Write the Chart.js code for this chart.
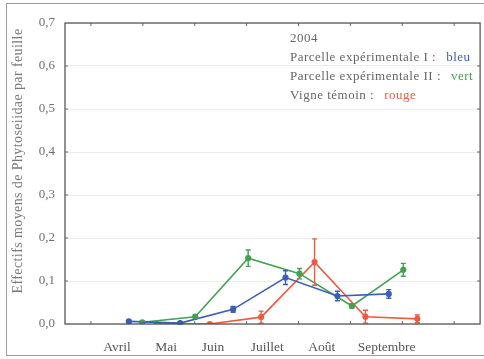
<!DOCTYPE html>
<html>
<head>
<meta charset="utf-8">
<script src="https://cdn.jsdelivr.net/npm/chart.js@4.4.1/dist/chart.umd.min.js"></script>
<style>
  body { margin: 0; background: #fff; }
  #wrap { position: relative; width: 484px; height: 359px; }
  #frame { position: absolute; left: 6px; top: 3px; width: 490px; height: 353px;
           border: 1px solid #9a9a9a; box-sizing: border-box; }
  canvas { position: absolute; left: 0; top: 0; }
</style>
</head>
<body>
<div id="wrap">
  <div id="frame"></div>
  <canvas id="chart" width="484" height="359"></canvas>
</div>
<script>
// months on the x axis (x = month number, 4 = 1st of April)
var months = ["Avril", "Mai", "Juin", "Juillet", "Août", "Septembre"]
var monthPos = [4.5, 5.45, 6.35, 7.4, 8.45, 9.7]
var monthTicks = [4, 5, 6, 7, 8, 9, 10, 11]

// Parcelle expérimentale I (bleu)
var blueX = [4.73, 5.72, 6.74, 7.75, 8.75, 9.74]
var blueY = [0.006, 0.002, 0.034, 0.108, 0.065, 0.070]
var blueErr = [0.003, 0.002, 0.007, 0.016, 0.011, 0.010]

// Parcelle expérimentale II (vert)
var greenX = [4.99, 6.01, 7.03, 8.02, 9.03, 10.02]
var greenY = [0.004, 0.017, 0.153, 0.117, 0.042, 0.126]
var greenErr = [0.002, 0.004, 0.019, 0.012, 0.005, 0.015]

// Vigne témoin (rouge)
var redX = [5.27, 6.29, 7.28, 8.31, 9.29, 10.29]
var redY = [0.0, 0.0, 0.016, 0.144, 0.017, 0.012]
var redErr = [0.0, 0.0, 0.014, 0.054, 0.015, 0.009]

var yTitle = 'Effectifs moyens de Phytoseiidae par feuille'
var blue = '#3a5fb5', green = '#44a153', red = '#ef5b41'
var serif = '"Liberation Serif", "DejaVu Serif", serif'

function pts(xs, ys) {
    return xs.map(function (x, i) { return { x: x, y: ys[i] } })
}

function ds(label, xs, ys, err, color) {
    return {
        label: label,
        data: pts(xs, ys),
        errors: err,
        borderColor: color,
        backgroundColor: color,
        borderWidth: 1.6,
        pointRadius: 2.3,
        pointHoverRadius: 2.3,
        tension: 0
    }
}

// error bars + plot frame + inside ticks + the text legend
var extras = {
    id: 'extras',
    afterDatasetsDraw: function (chart) {
        var ctx = chart.ctx, ys = chart.scales.y
        chart.data.datasets.forEach(function (d, di) {
            var meta = chart.getDatasetMeta(di)
            ctx.save()
            ctx.strokeStyle = d.borderColor
            ctx.lineWidth = 1.4
            meta.data.forEach(function (p, i) {
                var e = d.errors[i]
                if (!e) return
                var v = d.data[i].y
                var top = ys.getPixelForValue(v + e), bot = ys.getPixelForValue(Math.max(0, v - e))
                ctx.beginPath()
                ctx.moveTo(p.x, top); ctx.lineTo(p.x, bot)
                ctx.moveTo(p.x - 2.5, top); ctx.lineTo(p.x + 2.5, top)
                ctx.moveTo(p.x - 2.5, bot); ctx.lineTo(p.x + 2.5, bot)
                ctx.stroke()
            })
            ctx.restore()
        })
    },
    afterDraw: function (chart) {
        var ctx = chart.ctx, a = chart.chartArea
        var xs = chart.scales.x, ys = chart.scales.y
        ctx.save()
        ctx.strokeStyle = '#4a4a4a'
        ctx.lineWidth = 1.2
        ctx.strokeRect(a.left, a.top, a.right - a.left, a.bottom - a.top)
        ctx.lineWidth = 1
        ctx.strokeStyle = '#666'
        ctx.beginPath()
        monthTicks.forEach(function (m) {
            var px = xs.getPixelForValue(m)
            ctx.moveTo(px, a.bottom); ctx.lineTo(px, a.bottom - 3)
            ctx.moveTo(px, a.top); ctx.lineTo(px, a.top + 3)
        })
        for (var k = 1; k < 7; k++) {
            var py = ys.getPixelForValue(k / 10)
            ctx.moveTo(a.left, py); ctx.lineTo(a.left + 3, py)
            ctx.moveTo(a.right, py); ctx.lineTo(a.right - 3, py)
        }
        ctx.stroke()

        // legend written as text
        ctx.font = '13px ' + serif
        ctx.letterSpacing = '0.5px'
        ctx.textBaseline = 'middle'
        var lx = 290
        var lines = [
            ['2004', '', null, 39],
            ['Parcelle expérimentale I :', 'bleu', blue, 58],
            ['Parcelle expérimentale II :', 'vert', green, 77],
            ['Vigne témoin :', 'rouge', red, 95.5]
        ]
        lines.forEach(function (l) {
            ctx.fillStyle = '#666'
            ctx.fillText(l[0], lx, l[3])
            if (l[1]) {
                ctx.fillStyle = l[2]
                ctx.fillText(l[1], lx + ctx.measureText(l[0]).width + 10, l[3])
            }
        })

        // y axis title (a bit above the plot centre, as in the scan)
        ctx.translate(18, 161)
        ctx.rotate(-Math.PI / 2)
        ctx.font = '14px ' + serif
        ctx.letterSpacing = '0.4px'
        ctx.textAlign = 'center'
        ctx.fillStyle = '#7a7a7a'
        ctx.fillText(yTitle, 0, 0)
        ctx.restore()
    }
}

new Chart(document.getElementById('chart').getContext('2d'), {
    type: 'line',
    data: {
        datasets: [
            ds('Parcelle expérimentale I', blueX, blueY, blueErr, blue),
            ds('Parcelle expérimentale II', greenX, greenY, greenErr, green),
            ds('Vigne témoin', redX, redY, redErr, red)
        ]
    },
    plugins: [extras],
    options: {
        responsive: false,
        animation: false,
        layout: { padding: { top: 23, right: 3, left: 0, bottom: 0 } },
        plugins: { legend: { display: false }, tooltip: { enabled: false } },
        scales: {
            x: {
                type: 'linear',
                min: 3.5,
                max: 11.5,
                afterBuildTicks: function (scale) {
                    scale.ticks = monthPos.map(function (v) { return { value: v } })
                },
                afterFit: function (scale) { scale.height = 35 },
                grid: { display: false, drawTicks: false },
                border: { display: false },
                ticks: {
                    autoSkip: false,
                    maxRotation: 0,
                    padding: 15,
                    color: '#555',
                    font: { family: serif, size: 13.5 },
                    callback: function (v, i) { return months[i] }
                }
            },
            y: {
                min: 0,
                max: 0.7,
                afterFit: function (scale) { scale.width = 65 },
                border: { display: false },
                grid: { color: 'rgba(0,0,0,0.07)', drawTicks: false, lineWidth: 1 },
                ticks: {
                    stepSize: 0.1,
                    padding: 10,
                    color: '#707070',
                    font: { family: serif, size: 13 },
                    callback: function (v) { return v.toFixed(1).replace('.', ',') }
                }
            }
        }
    }
})
</script>
</body>
</html>
